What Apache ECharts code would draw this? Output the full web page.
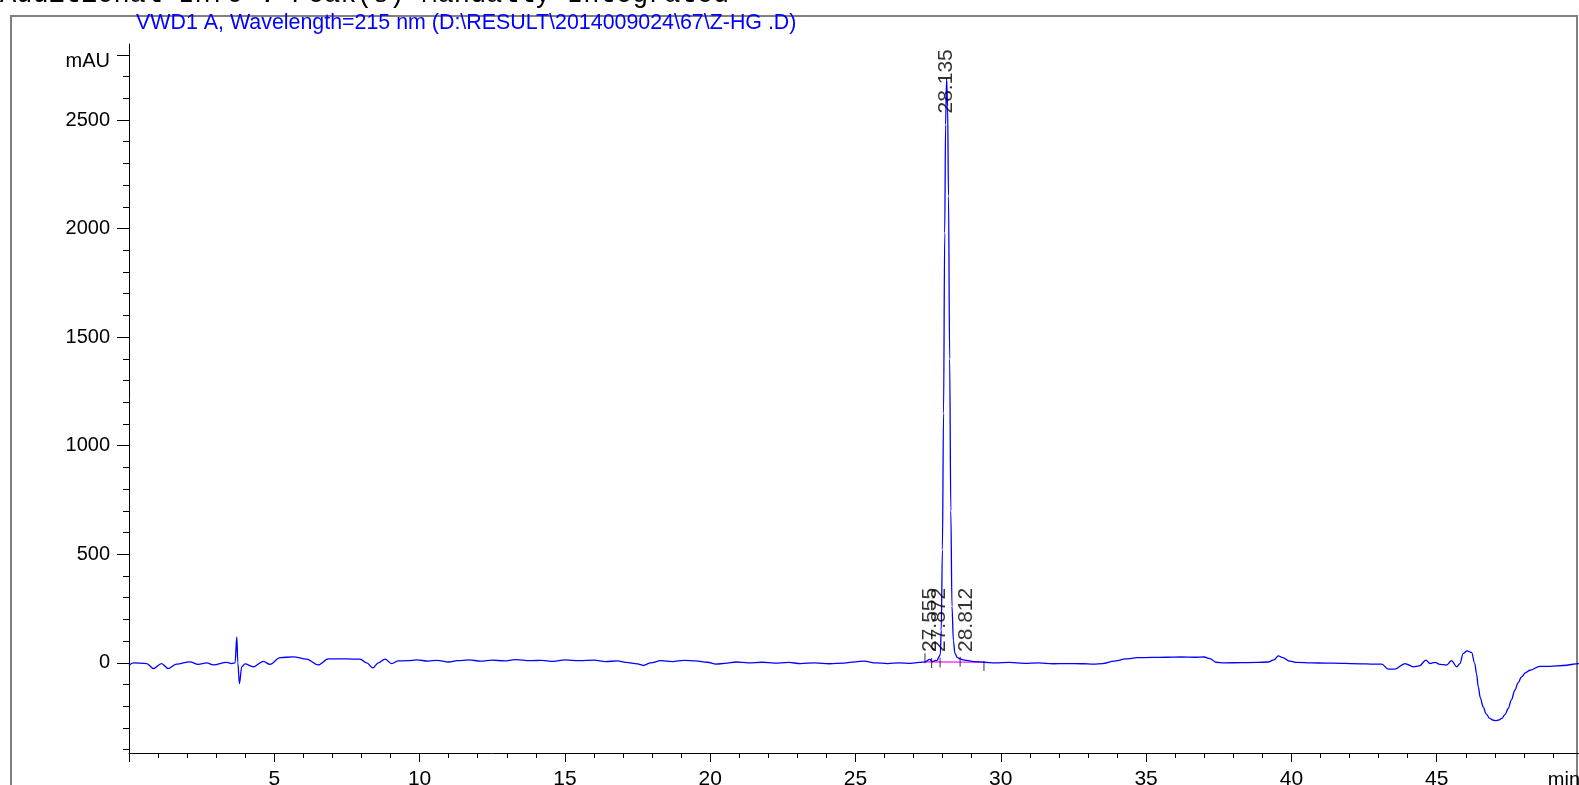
<!DOCTYPE html>
<html>
<head>
<meta charset="utf-8">
<script src="https://cdn.jsdelivr.net/npm/echarts@6/dist/echarts.min.js"></script>
<style>
html,body{margin:0;padding:0;background:#fff;}
#chart{width:1579px;height:785px;}
</style>
</head>
<body>
<div id="chart"></div>
<script>
// ---- data ----
const headerText = 'Additional Info : Peak(s) Manually Integrated';
const titleText = 'VWD1 A, Wavelength=215 nm (D:\\RESULT\\2014009024\\67\\Z-HG .D)';

const times = [
  0.00,0.15,0.61,0.84,1.12,1.35,1.64,2.10,2.38,2.67,2.90,3.36,3.53,3.65,3.71,3.745,3.80,3.88,3.99,4.28,
  4.62,4.85,5.20,5.65,6.11,6.51,6.86,7.49,7.95,8.18,8.39,8.58,8.81,9.04,9.27,9.6,9.9,10.3,10.6,11.0,
  11.3,11.7,12.1,12.5,12.9,13.3,13.8,14.2,14.6,15.0,15.5,16.0,16.4,16.8,17.1,17.5,17.7,17.95,18.3,18.7,
  19.1,19.5,19.9,20.2,20.5,20.9,21.3,21.8,22.2,22.7,23.1,23.6,24.1,24.6,25.0,25.3,25.7,26.1,26.5,26.9,
  27.2,27.4,27.555,27.65,27.75,27.80,27.872,27.92,27.95,27.99,28.03,28.07,28.10,28.135,28.17,28.20,28.24,28.28,28.32,28.37,
  28.42,28.50,28.60,28.70,28.812,28.95,29.10,29.42,29.8,30.3,30.8,31.3,31.8,32.3,32.8,33.2,33.5,33.9,34.3,34.7,
  35.2,35.7,36.2,36.7,37.0,37.2,37.4,37.7,38.3,38.8,39.2,39.4,39.55,39.7,39.95,40.2,40.7,41.2,41.7,42.02,
  43.11,43.33,43.56,43.91,44.20,44.40,44.63,44.77,44.94,45.11,45.34,45.51,45.69,45.80,45.91,46.05,46.20,46.31,46.37,46.43,
  46.50,46.60,46.70,46.83,46.93,47.03,47.13,47.24,47.35,47.46,47.57,47.69,47.80,47.92,48.05,48.21,48.55,48.90,49.36,49.90,50.0
];
const signal = [
  -12,0,-3,-26,-3,-26,-6,5,-7,0,-9,2,-3,0,120,0,-95,-18,-5,-18,
  7,-7,24,28,17,-9,18,18,17,0,-23,0,17,-3,9,10,14,8,12,4,
  10,14,8,13,9,15,10,12,7,14,10,13,6,9,2,-5,-12,0,10,6,
  12,9,3,-6,-2,4,0,3,-1,2,-3,0,-4,-1,5,8,0,-3,0,-2,
  2,5,16,6,12,10,28,40,150,520,1150,1980,2480,2690,2560,2150,1400,700,260,100,
  45,25,18,14,12,8,6,3,0,2,-2,0,-4,-3,-4,-6,-3,8,18,24,
  25,26,27,26,27,20,3,0,1,2,4,14,32,24,8,2,0,-1,-2,-3,
  -6,-29,-29,-3,-18,-14,13,-3,2,-7,-10,10,-18,-3,43,55,48,-3,-50,-110,
  -160,-203,-235,-256,-263,-266,-263,-256,-238,-210,-170,-126,-92,-64,-46,-34,-16,-16,-12,-3,-2
];

const peakTimes = [27.555, 27.872, 28.135, 28.812];
const peakLabelBase = [50, 50, 2530, 50];

const baselineTimes = [27.39, 29.42];
const baselineValues = [5, 3];

const markerTimes = [27.39, 27.62, 27.91, 28.60, 29.42];
const markerValues = [21, 0, 2, 5, -14];

const yMinorTicks = [];
for (let v = -400; v <= 2800; v += 100) yMinorTicks.push(v);
const yMajorTicks = [0, 500, 1000, 1500, 2000, 2500, 2800];
const xLabels = [5, 10, 15, 20, 25, 30, 35, 40, 45];

// ---- chart ----
const chart = echarts.init(document.getElementById('chart'), null, {renderer: 'canvas'});
const FONT = 'Liberation Sans, Arial, sans-serif';

const option = {
  animation: false,
  backgroundColor: '#ffffff',
  grid: {left: 129, right: -3, top: 44, bottom: 32, containLabel: false, outerBoundsMode: 'none'},
  xAxis: {
    type: 'value', min: 0, max: 50, interval: 5,
    name: 'min', nameLocation: 'end', nameGap: 0,
    nameTextStyle: {fontFamily: FONT, fontSize: 20, color: '#000', align: 'right', verticalAlign: 'top', padding: [17, 2, 0, 0]},
    axisLine: {show: true, onZero: false, lineStyle: {color: '#000', width: 1}},
    axisTick: {show: true, length: 9, lineStyle: {color: '#000'}},
    minorTick: {show: true, splitNumber: 5, length: 5, lineStyle: {color: '#000'}},
    splitLine: {show: false},
    axisLabel: {
      customValues: xLabels,
      fontFamily: FONT, fontSize: 21, color: '#000', margin: 16
    }
  },
  yAxis: [
    {
      type: 'value', min: -415, max: 2850, position: 'left',
      axisLine: {show: true, onZero: false, lineStyle: {color: '#000', width: 1}},
      axisTick: {show: true, customValues: yMinorTicks, length: 6, lineStyle: {color: '#000'}},
      axisLabel: {show: false},
      splitLine: {show: false}
    },
    {
      type: 'value', min: -415, max: 2850, position: 'left', offset: 0,
      axisLine: {show: false},
      axisTick: {show: true, customValues: yMajorTicks, length: 12, lineStyle: {color: '#000'}},
      axisLabel: {
        customValues: yMajorTicks,
        formatter: v => (v === 2800 ? '{u|mAU}' : String(v)),
        rich: {u: {fontFamily: FONT, fontSize: 20, color: '#000', padding: [14, 0, 0, 0]}},
        fontFamily: FONT, fontSize: 20, color: '#000', margin: 19
      },
      splitLine: {show: false}
    }
  ],
  series: [
    {
      type: 'line', name: 'baseline',
      data: baselineTimes.map((t, i) => [t, baselineValues[i]]),
      symbol: 'none', lineStyle: {color: '#ff00ff', width: 1.2}, z: 2
    },
    {
      type: 'line', name: 'VWD1 A',
      data: times.map((t, i) => [t, signal[i]]),
      symbol: 'none', smooth: 0.35, smoothMonotone: 'x',
      lineStyle: {color: '#0000ff', width: 1.3}, z: 3
    },
    {
      type: 'scatter', name: 'markers',
      data: markerTimes.map((t, i) => [t, markerValues[i]]),
      symbol: 'rect', symbolSize: [1, 10],
      itemStyle: {color: '#000'}, z: 4, silent: true
    },
    {
      type: 'scatter', name: 'peaks',
      data: peakTimes.map((t, i) => [t, peakLabelBase[i]]),
      symbolSize: 0, z: 5, silent: true,
      label: {
        show: true, position: [0, 0], rotate: 90,
        align: 'left', verticalAlign: 'middle',
        formatter: p => p.value[0].toFixed(3),
        fontFamily: FONT, fontSize: 21, color: '#000'
      }
    }
  ],
  graphic: [
    {type: 'rect', shape: {x: 11, y: 16, width: 1566, height: 800},
     style: {fill: 'none', stroke: '#808080', lineWidth: 2}, silent: true, z: -1},
    {type: 'text', x: 0, y: 8,
     style: {text: headerText, font: '27px "Liberation Mono", "Courier New", monospace', fill: '#000', verticalAlign: 'bottom', align: 'left'}},
    {type: 'text', x: 136, y: 23,
     style: {text: titleText, font: '21.4px "Liberation Sans", Arial, sans-serif', fill: '#0000ff', verticalAlign: 'middle', align: 'left'}}
  ]
};
chart.setOption(option);
</script>
</body>
</html>
